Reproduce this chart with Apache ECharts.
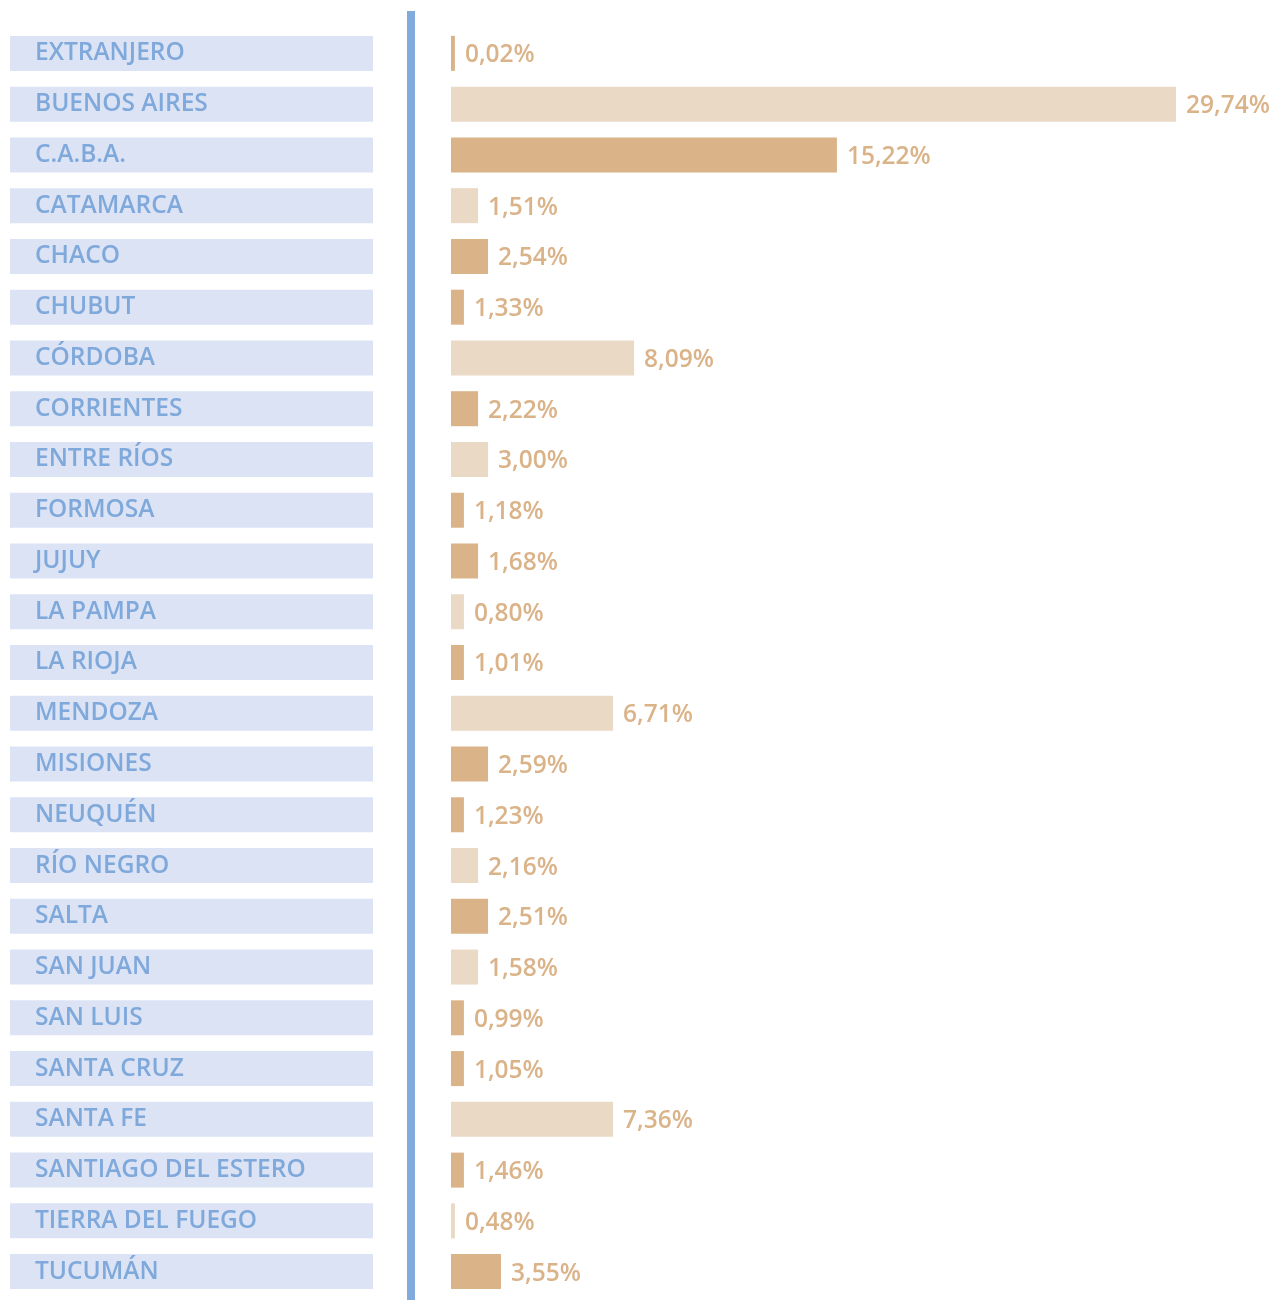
<!DOCTYPE html>
<html>
<head>
<meta charset="utf-8">
<script src="https://cdn.jsdelivr.net/npm/echarts@6/dist/echarts.min.js"></script>
<style>
  html, body { margin: 0; padding: 0; background: #ffffff; }
  #chart { width: 1287px; height: 1300px; }
</style>
</head>
<body>
<div id="chart"></div>
<script>
// ---- data ----
const provinces = [
  'EXTRANJERO', 'BUENOS AIRES', 'C.A.B.A.', 'CATAMARCA', 'CHACO', 'CHUBUT',
  'CÓRDOBA', 'CORRIENTES', 'ENTRE RÍOS', 'FORMOSA', 'JUJUY', 'LA PAMPA',
  'LA RIOJA', 'MENDOZA', 'MISIONES', 'NEUQUÉN', 'RÍO NEGRO', 'SALTA',
  'SAN JUAN', 'SAN LUIS', 'SANTA CRUZ', 'SANTA FE', 'SANTIAGO DEL ESTERO',
  'TIERRA DEL FUEGO', 'TUCUMÁN'
];
// percentages printed next to each bar
const shares = [
  0.02, 29.74, 15.22, 1.51, 2.54, 1.33,
  8.09, 2.22, 3.00, 1.18, 1.68, 0.80,
  1.01, 6.71, 2.59, 1.23, 2.16, 2.51,
  1.58, 0.99, 1.05, 7.36, 1.46,
  0.48, 3.55
];
const barLengths = [
  0.16, 29.74, 15.83, 1.11, 1.52, 0.53,
  7.51, 1.11, 1.52, 0.53, 1.11, 0.53,
  0.53, 6.65, 1.52, 0.53, 1.11, 1.52,
  1.11, 0.53, 0.53, 6.65, 0.53,
  0.16, 2.05
];

// ---- styles ----
const DARK = '#dab389';
const LIGHT = '#ead9c5';
const BLUE_TEXT = '#7fa8db';
const lightRows = new Set(['BUENOS AIRES', 'CATAMARCA', 'CÓRDOBA', 'ENTRE RÍOS',
  'LA PAMPA', 'MENDOZA', 'RÍO NEGRO', 'SAN JUAN', 'SANTA FE', 'TIERRA DEL FUEGO']);
const FONT = '"Open Sans", "Noto Sans", sans-serif';

const chart = echarts.init(document.getElementById('chart'), null, { renderer: 'canvas' });

chart.setOption({
  backgroundColor: '#ffffff',
  animation: false,
  grid: [
    { left: 451, top: 28, height: 1269, right: 111, containLabel: false },
    { left: 411, top: 11, bottom: 0, width: 10, containLabel: false }
  ],
  xAxis: [
    { type: 'value', gridIndex: 0, min: 0, max: 'dataMax', show: false },
    { type: 'value', gridIndex: 1, show: false }
  ],
  yAxis: [
    {
      type: 'category', gridIndex: 0, inverse: true, data: provinces,
      axisLine: { show: false }, axisTick: { show: false }, splitLine: { show: false },
      axisLabel: {
        interval: 0, margin: 441, align: 'left', verticalAlign: 'middle',
        color: BLUE_TEXT, fontFamily: FONT, fontWeight: 600, fontSize: 24.5,
        backgroundColor: '#dbe3f5', width: 338, height: 35,
        padding: [0, 0, 0, 25], overflow: 'none',
        formatter: v => '{t|' + v + '}',
        rich: {
          t: {
            color: BLUE_TEXT, fontFamily: FONT, fontWeight: 600, fontSize: 24.5,
            height: 31, lineHeight: 31, padding: [4, 0, 0, 0]
          }
        }
      }
    },
    {
      type: 'value', gridIndex: 1,
      axisLine: { show: true, lineStyle: { color: '#80abdc', width: 8, cap: 'butt' } },
      axisTick: { show: false }, axisLabel: { show: false }, splitLine: { show: false }
    }
  ],
  series: [{
    type: 'bar', xAxisIndex: 0, yAxisIndex: 0, barWidth: 35,
    data: barLengths.map((v, i) => ({
      value: v,
      itemStyle: { color: lightRows.has(provinces[i]) ? LIGHT : DARK }
    })),
    label: {
      show: true, position: 'right', distance: 10, offset: [0, 2],
      color: DARK, fontFamily: FONT, fontWeight: 600, fontSize: 24.5,
      formatter: p => shares[p.dataIndex].toFixed(2).replace('.', ',') + '%'
    }
  }]
});
</script>
</body>
</html>
